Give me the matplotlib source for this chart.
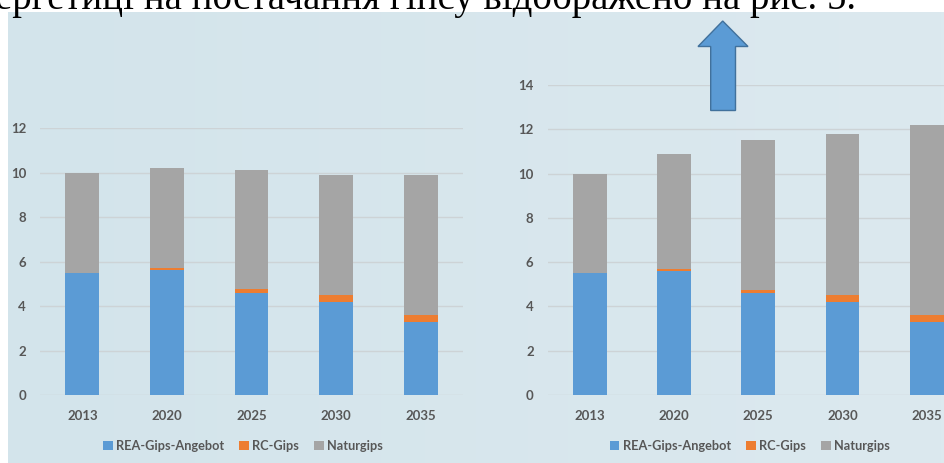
import numpy as np
import matplotlib
matplotlib.use('Agg')
import matplotlib.pyplot as plt
from matplotlib.patches import Polygon
from matplotlib.colors import LinearSegmentedColormap

# дані: роки та обсяги гіпсу (млн т) за джерелами
years = ['2013', '2020', '2025', '2030', '2035']
series_names = ['REA-Gips-Angebot', 'RC-Gips', 'Naturgips']

rea_gips = [5.5, 5.6, 4.6, 4.2, 3.3]
rc_gips = [0.0, 0.1, 0.15, 0.3, 0.3]

# природний гіпс: базовий сценарій та сценарій зростання попиту
natur_base = [4.5, 4.5, 5.35, 5.4, 6.3]
natur_growth = [4.5, 5.2, 6.75, 7.3, 8.6]

caption = 'ергетиці на постачання гіпсу відображено на рис. 5.'

colors = ['#5b9bd5', '#ed7d31', '#a5a5a5']
text_color = '#575757'
grid_color = '#cdd3d6'

W, H = 945, 463
fig = plt.figure(figsize=(W / 100, H / 100), dpi=100)
fig.patch.set_facecolor('white')

# фон під діаграмами (легкий градієнт)
ax_bg = fig.add_axes([0, 0, 1, 1], zorder=0)
ax_bg.set_xlim(0, W)
ax_bg.set_ylim(H, 0)
ax_bg.axis('off')
cmap_bg = LinearSegmentedColormap.from_list('bg', ['#d3e4eb', '#dce9ef'])
grad = np.linspace(0, 1, 256).reshape(1, -1)
ax_bg.imshow(grad, cmap=cmap_bg, extent=[8, W, H, 12], aspect='auto')


def stacked_chart(ax, natur, ymax, legend_y):
    x = np.arange(len(years))
    bottom = np.zeros(len(years))
    for name, vals, c in zip(series_names, [rea_gips, rc_gips, natur], colors):
        ax.bar(x, vals, width=0.4, bottom=bottom, color=c, label=name, zorder=3)
        bottom += np.array(vals)

    ax.set_xlim(-0.5, len(years) - 0.5)
    ax.set_ylim(0, ymax)
    ax.set_yticks(range(0, ymax + 1, 2))
    ax.set_xticks(x)
    ax.set_xticklabels(years)
    ax.set_facecolor('none')
    ax.grid(axis='y', color=grid_color, linewidth=1, zorder=0)
    for s in ax.spines.values():
        s.set_visible(False)
    ax.tick_params(axis='both', length=0, labelsize=9.5, labelcolor=text_color)
    ax.tick_params(axis='x', pad=11)
    ax.tick_params(axis='y', pad=10)
    for lbl in ax.get_xticklabels() + ax.get_yticklabels():
        lbl.set_fontweight('bold')

    leg = ax.legend(loc='center', bbox_to_anchor=(0.48, legend_y), ncol=3,
                    frameon=False, fontsize=9.2, handlelength=0.75, handleheight=0.75,
                    handletextpad=0.25, columnspacing=1.2)
    for t in leg.get_texts():
        t.set_color(text_color)
        t.set_fontweight('bold')


plt.rcParams['font.family'] = ['Lato', 'DejaVu Sans']

# ліва діаграма: базовий сценарій
ax1 = fig.add_axes([40 / W, 68 / H, 423 / W, 267 / H], zorder=2)
stacked_chart(ax1, natur_base, 12, -0.191)

# права діаграма: зростання попиту
ax2 = fig.add_axes([547.5 / W, 68 / H, 421.5 / W, 310 / H], zorder=2)
stacked_chart(ax2, natur_growth, 14, -0.1645)

# верхній шар: стрілка та рядок тексту
ax_top = fig.add_axes([0, 0, 1, 1], zorder=5)
ax_top.set_xlim(0, W)
ax_top.set_ylim(H, 0)
ax_top.axis('off')
ax_top.set_facecolor('none')

arrow = Polygon([(722.7, 21), (748, 46.5), (735.5, 46.5), (735.5, 110.5),
                 (710.7, 110.5), (710.7, 46.5), (698, 46.5)],
                closed=True, facecolor='#5b9bd5', edgecolor='#41719c', linewidth=1)
ax_top.add_patch(arrow)

ax_top.text(-5, 8.5, caption, fontsize=28, family='Liberation Serif',
            va='baseline', ha='left', color='black')

plt.savefig('out.png', dpi=100)
